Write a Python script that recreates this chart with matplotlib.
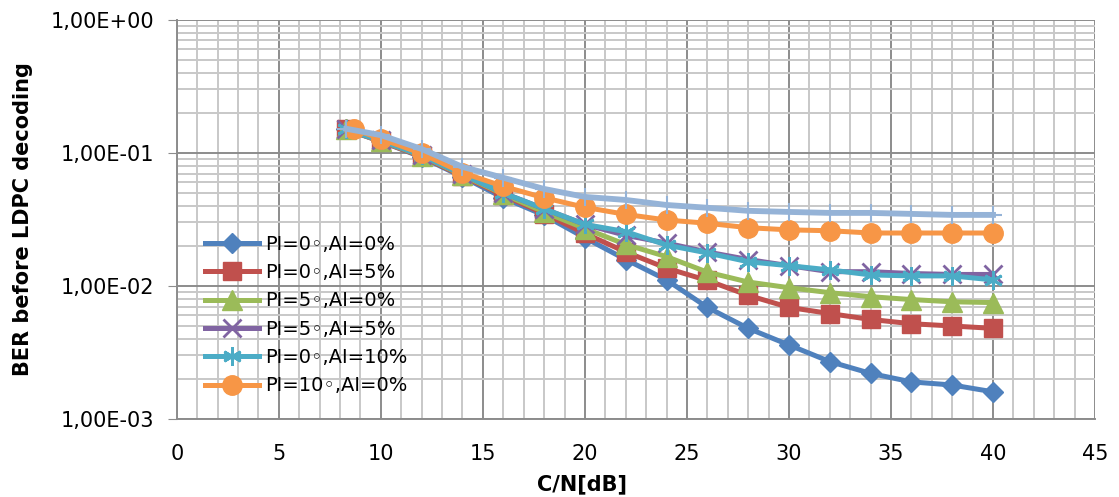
import numpy as np
import matplotlib.pyplot as plt
from matplotlib.ticker import MultipleLocator, LogLocator, FixedLocator

plt.rcParams['font.family'] = ['DejaVu Sans']

# C/N values (dB)
cn = [8.3, 10, 12, 14, 16, 18, 20, 22, 24, 26, 28, 30, 32, 34, 36, 38, 40]
cn_orange = [8.7, 10, 12, 14, 16, 18, 20, 22, 24, 26, 28, 30, 32, 34, 36, 38, 40]

ber_pi0_ai0 = [0.150, 0.122, 0.093, 0.066, 0.046, 0.034, 0.0230, 0.0158, 0.0111, 0.0069,
               0.0048, 0.0036, 0.0027, 0.0022, 0.0019, 0.0018, 0.0016]
ber_pi0_ai5 = [0.150, 0.122, 0.094, 0.067, 0.048, 0.035, 0.0248, 0.0180, 0.0136, 0.0110,
               0.0085, 0.0069, 0.0062, 0.0056, 0.0052, 0.0050, 0.0048]
ber_pi5_ai0 = [0.150, 0.123, 0.095, 0.068, 0.049, 0.036, 0.0270, 0.0205, 0.0166, 0.0127,
               0.0107, 0.0097, 0.0089, 0.0083, 0.0079, 0.0076, 0.0075]
ber_pi5_ai5 = [0.150, 0.124, 0.096, 0.069, 0.050, 0.038, 0.0290, 0.0240, 0.0210, 0.0180,
               0.0158, 0.0142, 0.0128, 0.0128, 0.0124, 0.0122, 0.0122]
ber_pi0_ai10 = [0.150, 0.124, 0.096, 0.069, 0.050, 0.038, 0.0290, 0.0256, 0.0203, 0.0177,
                0.0152, 0.0142, 0.0132, 0.0121, 0.0119, 0.0119, 0.0111]
ber_pi10_ai0 = [0.150, 0.128, 0.099, 0.071, 0.056, 0.046, 0.0390, 0.0345, 0.0313, 0.0296,
                0.0274, 0.0264, 0.0260, 0.0250, 0.0250, 0.0250, 0.0250]
ber_extra = [0.152, 0.136, 0.107, 0.0785, 0.065, 0.0536, 0.0467, 0.0443, 0.0406, 0.0387,
             0.0367, 0.0360, 0.0354, 0.0354, 0.0348, 0.0342, 0.0342]

fig = plt.figure(figsize=(11.19, 4.97), dpi=100)
ax = fig.add_axes([0.158, 0.157, 0.8206, 0.803])

lw = 3.6
ax.plot(cn, ber_pi0_ai0, color='#4F81BD', lw=lw, marker='D', ms=9.8, label='PI=0◦,AI=0%')
ax.plot(cn, ber_pi0_ai5, color='#C0504D', lw=lw, marker='s', ms=13.5, label='PI=0◦,AI=5%')
ax.plot(cn, ber_pi5_ai0, color='#9BBB59', lw=lw, marker='^', ms=14, label='PI=5◦,AI=0%')
ax.plot(cn, ber_pi5_ai5, color='#8064A2', lw=lw, marker='x', ms=13, mew=2, label='PI=5◦,AI=5%')
ax.plot(cn, ber_pi0_ai10, color='#4BACC6', lw=lw, marker=(6, 2, 0), ms=13.5, mew=2, label='PI=0◦,AI=10%')
ax.plot(cn_orange, ber_pi10_ai0, color='#F79646', lw=lw, marker='o', ms=14, label='PI=10◦,AI=0%')
ax.plot(cn, ber_extra, color='#95B3D7', lw=4.2, marker='+', ms=13, mew=1.5, label='_nolegend_')

ax.set_yscale('log')
ax.set_xlim(0, 45)
ax.set_ylim(1e-3, 1)
ax.xaxis.set_major_locator(MultipleLocator(5))
ax.xaxis.set_minor_locator(MultipleLocator(1))
ax.yaxis.set_major_locator(FixedLocator([1e-3, 1e-2, 1e-1, 1]))
ax.yaxis.set_minor_locator(LogLocator(base=10, subs=np.arange(2, 10)))
ax.set_yticklabels(['1,00E-03', '1,00E-02', '1,00E-01', '1,00E+00'])

ax.grid(which='major', color='#8C8C8C', lw=1.4)
ax.grid(which='minor', color='#C8C8C8', lw=1.4)
ax.set_axisbelow(True)

for s in ['top', 'right']:
    ax.spines[s].set_visible(False)
for s in ['left', 'bottom']:
    ax.spines[s].set_color('#8C8C8C')
    ax.spines[s].set_linewidth(1.4)

ax.tick_params(axis='y', which='major', length=6.5, color='#8C8C8C', labelsize=15, pad=10)
ax.tick_params(axis='y', which='minor', length=0)
ax.tick_params(axis='x', which='both', length=0, labelsize=15, pad=18)

ax.set_xlabel('C/N[dB]', fontsize=15, fontweight='bold')
ax.xaxis.set_label_coords(0.441, -0.138)
ax.set_ylabel('BER before LDPC decoding', fontsize=15, fontweight='bold')
ax.yaxis.set_label_coords(-0.157, 0.5)

ax.legend(loc='upper left', bbox_to_anchor=(0.0218, 0.481), frameon=False, fontsize=14,
          handlelength=2.8, handletextpad=0.3, labelspacing=0.48, borderaxespad=0)

fig.savefig('out.png', dpi=100)
